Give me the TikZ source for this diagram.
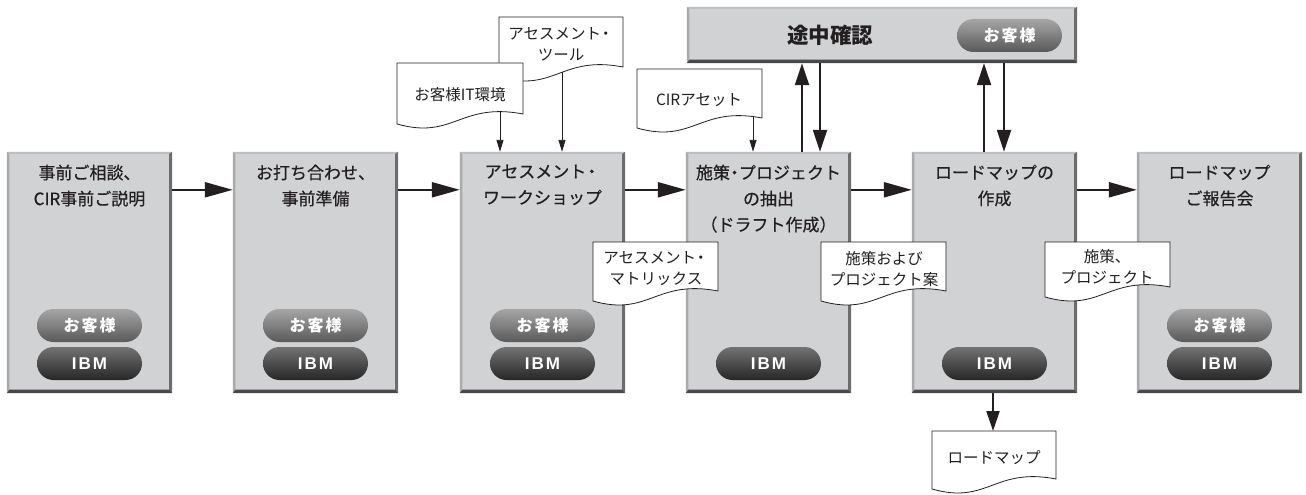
\documentclass[tikz,border=0pt]{standalone}
\usepackage{fontspec}
\newfontfamily\jp{Noto Sans CJK JP}
\newfontface\jpm[FakeBold=0.5]{Noto Sans CJK JP}
\newfontfamily\lat{Liberation Sans}
\usetikzlibrary{arrows.meta,calc}
\definecolor{boxfill}{HTML}{D1D2D4}
\definecolor{bvtop}{HTML}{BEBFC1}
\definecolor{bvleft}{HTML}{A9AAAC}
\definecolor{bvright}{HTML}{6D6D6F}
\definecolor{bvbot}{HTML}{48484A}
\definecolor{ink}{HTML}{231F20}
\newcommand\mybevel[1]{%
  \fill[bvtop] (#1.north west) -- (#1.north east) -- ([xshift=-3pt,yshift=-2pt]#1.north east) -- ([xshift=2.5pt,yshift=-2pt]#1.north west) -- cycle;
  \fill[bvleft] (#1.north west) -- ([xshift=2.5pt,yshift=-2pt]#1.north west) -- ([xshift=2.5pt,yshift=3.5pt]#1.south west) -- (#1.south west) -- cycle;
  \fill[bvright] (#1.north east) -- (#1.south east) -- ([xshift=-3pt,yshift=3.5pt]#1.south east) -- ([xshift=-3pt,yshift=-2pt]#1.north east) -- cycle;
  \fill[bvbot] (#1.south west) -- ([xshift=2.5pt,yshift=3.5pt]#1.south west) -- ([xshift=-3pt,yshift=3.5pt]#1.south east) -- (#1.south east) -- cycle;}
\newcommand\docshape[4]{%
  \pgfmathsetmacro\dA{#1+0.5*(#2-#1)}%
  \pgfmathsetmacro\dB{#1+0.45*(#2-#1)}%
  \pgfmathsetmacro\dC{#4-12}%
  \pgfmathsetmacro\dD{#4+26}%
  \pgfmathsetmacro\dE{#4+10}%
  \filldraw[docst] (#1,#3) -- (#2,#3) -- (#2,#4) .. controls (\dA,\dC) and (\dB,\dD) .. (#1,\dE) -- cycle;}
\begin{document}
\begin{tikzpicture}[x=1pt,y=-1pt,
  stagebox/.style={rectangle,fill=boxfill,inner sep=0pt,minimum width=165,minimum height=241},
  topbox/.style={rectangle,fill=boxfill,inner sep=0pt,minimum width=390,minimum height=56},
  title/.style={anchor=north,inner sep=0pt,align=center,text=ink,font=\jpm\fontsize{17}{26}\selectfont},
  pill/.style={rectangle,rounded corners=16.5pt,minimum width=105,minimum height=33,inner sep=0pt,text=white},
  pillc/.style={pill,top color=black!35,bottom color=black!65,font=\jp\bfseries\fontsize{16}{16}\selectfont},
  pilli/.style={pill,top color=black!55,bottom color=black!85,font=\lat\bfseries\fontsize{17}{17}\selectfont},
  bigarr/.style={draw=ink,line width=2.2pt,-{Triangle[length=28pt,width=15pt]}},
  varr/.style={draw=ink,line width=2.2pt,-{Triangle[length=22pt,width=14pt]}},
  thinarr/.style={draw=ink,line width=0.9pt,-{Triangle[length=12pt,width=7pt]}},
  docst/.style={draw=ink,line width=0.8pt,fill=white},
  doctext/.style={inner sep=0pt,align=center,text=ink,font=\jp\fontsize{15.5}{21}\selectfont}]
\useasboundingbox (0,0) rectangle (1306,495);

% top box
\node[topbox] (top) at (882,35) {};
\mybevel{top}
\node[inner sep=0pt,text=ink,font=\jp\bfseries\fontsize{21.5}{21.5}\selectfont] (toptitle) at (830,35) {途中確認};
\node[pillc] (toppill) at (1009.5,35.5) {お\kern2pt 客\kern2pt 様};

% stage boxes
\foreach \n/\cx in {b1/89.5,b2/315.5,b3/542.5,b4/768.5,b5/994.5,b6/1219.5}{
  \node[stagebox] (\n) at (\cx,272.5) {};
  \mybevel{\n}
}
\node[title] (t1) at (89.5,164.5) {事前ご相談、\\CIR事前ご説明};
\node[title] (t2) at (315.5,164.5) {お打ち合わせ、\\事前準備};
\node[title] (t3) at (542.5,164.5) {アセスメント\kern-3pt・\\ワークショップ};
\node[title] (t4) at (768.5,164.5) {施策\kern-4pt・\kern-4pt プロジェクト\\の抽出\\（ドラフト作成）};
\node[title] (t5) at (994.5,164.5) {ロードマップの\\作成};
\node[title] (t6) at (1219.5,164.5) {ロードマップ\\ご報告会};

% pills
\foreach \n/\cx in {1/89.5,2/315.5,3/542.5,6/1219.5}{
  \node[pillc] (c\n) at (\cx,325.5) {お\kern2pt 客\kern2pt 様};
}
\foreach \n/\cx in {1/89.5,2/315.5,3/542.5,4/768.5,5/994.5,6/1219.5}{
  \node[pilli] (i\n) at (\cx,363.5) {I\kern2pt B\kern2pt M};
}

% horizontal arrows
\draw[bigarr] ($(b1.north east)+(0,38)$) -- ($(b2.north west)+(0,38)$);
\draw[bigarr] ($(b2.north east)+(0,38)$) -- ($(b3.north west)+(0,38)$);
\draw[bigarr] ($(b3.north east)+(0,38)$) -- ($(b4.north west)+(0,38)$);
\draw[bigarr] ($(b4.north east)+(0,38)$) -- ($(b5.north west)+(0,38)$);
\draw[bigarr] ($(b5.north east)+(0,38)$) -- ($(b6.north west)+(0,38)$);

% vertical arrows to/from top box
\coordinate (u4) at (802,152);
\coordinate (d4) at (820,63);
\coordinate (u5) at (984,152);
\coordinate (d5) at (1004,63);
\draw[varr] (u4) -- (u4 |- top.south);
\draw[varr] (d4) -- (d4 |- b4.north);
\draw[varr] (u5) -- (u5 |- top.south);
\draw[varr] (d5) -- (d5 |- b5.north);

% roadmap output arrow
\coordinate (rmtop) at (993,431);
\draw[draw=ink,line width=2.2pt,-{Triangle[length=20pt,width=13pt]}] (rmtop |- b5.south) -- (rmtop);

% thin input arrows
\coordinate (aTool) at (562,60);
\coordinate (aIT) at (500,100);
\coordinate (aCIR) at (753,100);
\draw[thinarr] (aTool) -- (aTool |- b3.north);
\draw[thinarr] (aIT) -- (aIT |- b3.north);
\draw[thinarr] (aCIR) -- (aCIR |- b4.north);

% documents
\docshape{499}{623}{17}{67}
\node[doctext] (dTool) at (561,44) {アセスメント\kern-3pt・\\ツール};
\docshape{397}{523}{63}{114}
\node[doctext] (dIT) at (460,95) {お客様IT環境};
\docshape{637}{762}{69}{118}
\node[doctext] (dCIR) at (699,100) {CIRアセット};
\docshape{593}{718}{242}{291}
\node[doctext] (dMat) at (656,269) {アセスメント\kern-3pt・\\マトリックス};
\docshape{821}{946}{242}{291}
\node[doctext] (dProp) at (884,269) {施策および\\プロジェクト案};
\docshape{1045}{1170}{242}{287}
\node[doctext] (dPrj) at (1107,267) {施策、\\プロジェクト};
\docshape{932}{1056}{431}{479}
\node[doctext] (dRM) at (994,458) {ロードマップ};
\end{tikzpicture}
\end{document}
